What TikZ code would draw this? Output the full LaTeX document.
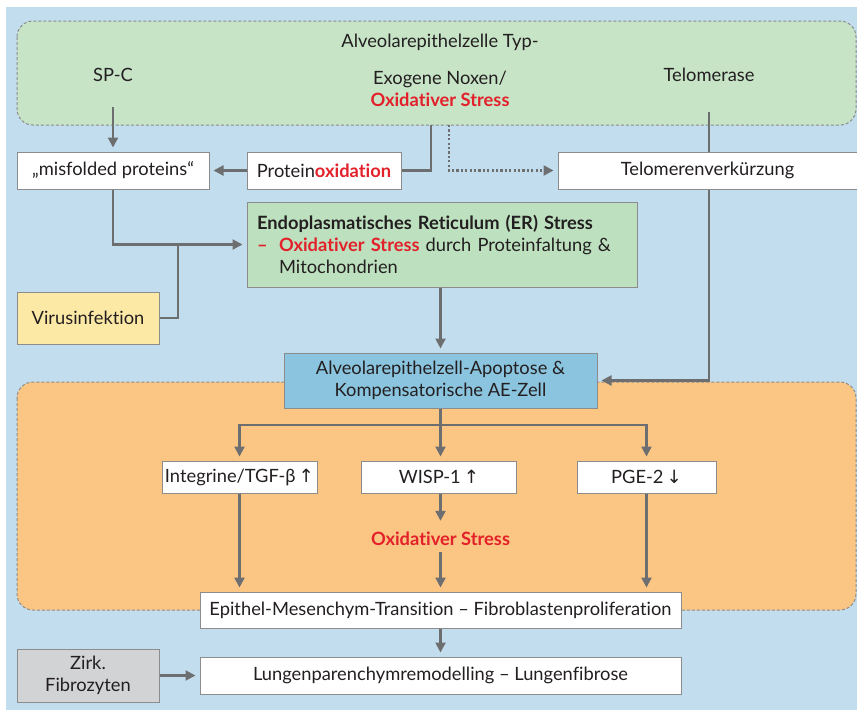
\documentclass[tikz,border=0pt]{standalone}
\usepackage{fontspec}
\setmainfont[Ligatures=NoCommon]{Lato}
\newfontfamily\symf{DejaVu Sans}
\usetikzlibrary{arrows.meta}
\definecolor{bgblue}{HTML}{C2DEEE}
\definecolor{greenreg}{HTML}{C7E4C7}
\definecolor{erfill}{HTML}{BDE0BF}
\definecolor{orangereg}{HTML}{FBC583}
\definecolor{apopfill}{HTML}{8AC4DE}
\definecolor{yellowfill}{HTML}{FDE9A6}
\definecolor{grayfill}{HTML}{D1D3D4}
\definecolor{boxline}{HTML}{8C8C8C}
\definecolor{arrowgray}{HTML}{6D6E70}
\definecolor{txtred}{HTML}{E3212B}
\definecolor{txt}{HTML}{231F20}
\newcommand{\redb}[1]{\textcolor{txtred}{\bfseries #1}}
\tikzset{
  region/.style={draw=boxline, dashed, dash pattern=on 3pt off 2pt, line width=1pt, rounded corners=16pt},
  box/.style={draw=boxline, line width=1pt, fill=white, inner sep=0pt, align=center, text=txt},
  lbl/.style={inner sep=0pt, align=center, text=txt},
  conn/.style={draw=arrowgray, line width=2.2pt},
  arr/.style={conn, -{Triangle[length=10pt,width=10pt]}, shorten >=4pt},
  dotarr/.style={draw=arrowgray, line width=2.2pt, dash pattern=on 2.2pt off 2.2pt, -{Triangle[length=10pt,width=10pt]}, shorten >=4pt},
}
\begin{document}
\begin{tikzpicture}[x=1pt, y=-1pt, font=\fontsize{18.3}{22}\selectfont]
\useasboundingbox (0,0) rectangle (857,712);
\fill[bgblue] (6,7) rectangle (857,710);
% regions
\draw[region, fill=greenreg] (17,21) rectangle (856,125);
\draw[region, fill=orangereg] (17,382) rectangle (856,610);
% texts in green region
\node[lbl] (title) at (440,42) {Alveolarepithelzelle Typ-};
\node[lbl] (spc) at (113,75) {SP-C};
\node[lbl] (noxen) at (440,89) {Exogene Noxen/\\\redb{Oxidativer Stress}};
\node[lbl] (telomerase) at (709,75) {Telomerase};
\coordinate (spcout) at (113,107);
\coordinate (gpo) at (431,125);
\coordinate (gdot) at (449,125);
\coordinate (tl) at (709,112);
% boxes
\node[box, minimum width=192pt, minimum height=37pt] (mis) at (113,170.5) {„misfolded proteins“};
\node[box, minimum width=154pt, minimum height=37pt] (protox) at (324,170.5) {Protein\redb{oxidation}};
\node[box, minimum width=299pt, minimum height=37pt] (telo) at (707.5,170.5) {Telomerenverkürzung};
\node[box, fill=erfill, minimum width=390pt, minimum height=85pt, text width=370pt, align=left, inner xsep=10pt] (er) at (442,244.5)
  {\textbf{Endoplasmatisches Reticulum (ER) Stress}\\
   \makebox[22pt][l]{\redb{–}}\redb{Oxidativer Stress} durch Proteinfaltung \&\\
   \hspace*{22pt}Mitochondrien};
\node[box, fill=yellowfill, minimum width=142pt, minimum height=52pt] (virus) at (88,318) {Virusinfektion};
\node[box, fill=apopfill, minimum width=313pt, minimum height=55pt] (apop) at (440.5,380.5) {Alveolarepithelzell-Apoptose \&\\Kompensatorische AE-Zell};
\node[box, minimum width=155pt, minimum height=32pt] (integ) at (239.5,477) {Integrine/TGF-β{\symf\,↑}};
\node[box, minimum width=155pt, minimum height=32pt] (wisp) at (439,477) {WISP-1{\symf\,↑}};
\node[box, minimum width=139pt, minimum height=32pt] (pge) at (646.5,477) {PGE-2{\symf\,↓}};
\node[lbl, minimum height=27pt] (oxs) at (440.5,538.5) {\redb{Oxidativer Stress}};
\node[box, minimum width=481pt, minimum height=36pt] (emt) at (440.5,610) {Epithel-Mesenchym-Transition – Fibroblastenproliferation};
\node[box, minimum width=481pt, minimum height=37pt] (lung) at (440.5,675.5) {Lungenparenchymremodelling – Lungenfibrose};
\node[box, fill=grayfill, minimum width=142pt, minimum height=53pt] (zirk) at (88,675.5) {Zirk.\\Fibrozyten};
% connectors
\draw[arr] (spcout) -- (mis.north);
\draw[arr] (protox.west) -- (mis.east);
\draw[conn] (gpo) |- (protox.east);
\draw[dotarr] (gdot) |- (telo.west);
\draw[conn] (tl) -- (tl |- telo.north);
\draw[arr] (tl |- telo.south) |- (apop.east);
\coordinate (j1) at (178,243);
\draw[arr] (mis.south) |- (er.west);
\draw[conn, line join=miter] (virus.east) -| (j1);
\draw[arr] (apop.north |- er.south) -- (apop.north);
\coordinate (sp) at (440.5,425);
\draw[conn] (apop.south) -- (sp);
\draw[arr] (sp) -| (integ.north);
\draw[arr] (sp) -| (pge.north);
\draw[arr] (sp) -- (sp |- wisp.north);
\draw[arr] (sp |- wisp.south) -- (oxs.north);
\draw[arr] (oxs.south) -- (emt.north);
\draw[arr] (integ.south) -- (integ.south |- emt.north);
\draw[arr] (pge.south) -- (pge.south |- emt.north);
\draw[arr] (emt.south) -- (lung.north);
\draw[arr] (zirk.east) -- (lung.west);
\end{tikzpicture}
\end{document}
